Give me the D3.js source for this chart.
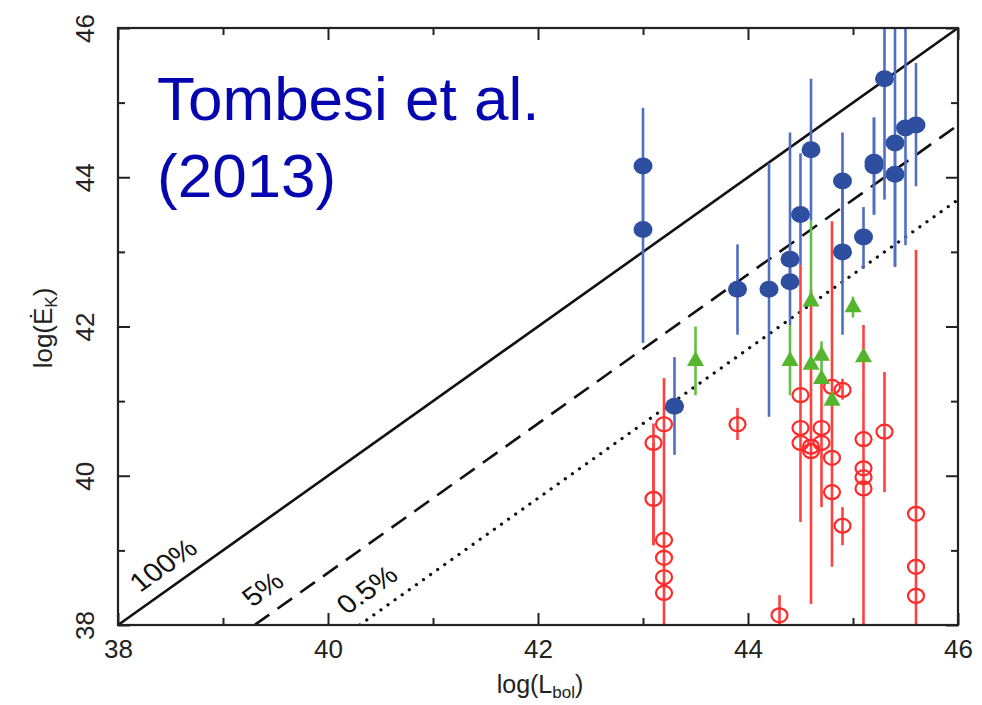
<!DOCTYPE html>
<html>
<head>
<meta charset="utf-8">
<script src="https://cdn.jsdelivr.net/npm/d3@7/dist/d3.min.js"></script>
<style>
  html, body { margin: 0; padding: 0; background: #fff; }
  svg { display: block; font-family: "Liberation Sans", Arial, Helvetica, sans-serif; }
</style>
</head>
<body>
<svg id="chart" width="982" height="705"></svg>
<script>
// Axis ranges and ticks
const xDomain = [38, 46];
const yDomain = [38, 46];
const majorTicks = [38, 40, 42, 44, 46];
const minorTicks = [39, 41, 43, 45];

// Efficiency reference lines: E_K = f * L_bol
const effFractions = [1, 0.05, 0.005];
const effLabels = ["100%", "5%", "0.5%"];

// Each point: [log L_bol, log E_K, lower end of bar, upper end of bar]
const filledCircles = [
  [43.0, 44.15, 43.30, 44.93],
  [43.0, 43.30, 41.78, 44.15],
  [43.3, 40.93, 40.28, 41.59],
  [43.9, 42.50, 41.89, 43.10],
  [44.2, 42.50, 40.79, 44.19],
  [44.4, 42.90, 42.60, 44.60],
  [44.4, 42.60, 42.02, 42.90],
  [44.5, 43.50, 42.82, 44.32],
  [44.6, 44.37, 43.42, 45.32],
  [44.9, 43.95, 43.00, 44.60],
  [44.9, 43.00, 41.89, 43.95],
  [45.1, 43.20, 42.78, 43.60],
  [45.2, 44.20, 43.50, 44.80],
  [45.2, 44.15, 43.50, 44.80],
  [45.3, 45.32, 43.70, 46.50],
  [45.4, 44.46, 42.80, 46.50],
  [45.4, 44.04, 42.80, 44.46],
  [45.5, 44.66, 43.09, 46.50],
  [45.6, 44.70, 43.88, 45.53]
];

const triangles = [
  [43.5, 41.55, 41.08, 42.00],
  [44.4, 41.55, 41.08, 42.02],
  [44.6, 42.35, 42.35, 43.42],
  [44.6, 41.50, null, null],
  [44.7, 41.62, 41.31, 41.80],
  [44.7, 41.31, null, null],
  [44.8, 41.02, null, null],
  [45.0, 42.27, 42.12, 42.40],
  [45.1, 41.60, null, null]
];

const openCircles = [
  [43.1, 40.44, 39.07, 40.70],
  [43.1, 39.69, 39.07, 40.44],
  [43.2, 40.69, 37.50, 41.31],
  [43.2, 39.14, null, null],
  [43.2, 38.90, null, null],
  [43.2, 38.64, null, null],
  [43.2, 38.43, null, null],
  [43.9, 40.69, 40.48, 40.91],
  [44.3, 38.13, 37.50, 38.40],
  [44.5, 41.08, 39.38, 42.82],
  [44.5, 40.64, null, null],
  [44.5, 40.44, null, null],
  [44.6, 40.39, 38.28, 42.50],
  [44.6, 40.33, null, null],
  [44.7, 40.64, 39.58, 41.31],
  [44.7, 40.44, null, null],
  [44.8, 41.19, 38.78, 43.41],
  [44.8, 40.24, null, null],
  [44.8, 39.78, null, null],
  [44.9, 41.15, 41.02, 41.30],
  [44.9, 39.33, 39.07, 39.58],
  [45.1, 40.49, 37.50, 42.02],
  [45.1, 40.10, null, null],
  [45.1, 39.98, null, null],
  [45.1, 39.83, null, null],
  [45.3, 40.59, 39.78, 41.39],
  [45.6, 39.49, 37.50, 43.03],
  [45.6, 38.78, null, null],
  [45.6, 38.39, null, null]
];

const titleLines = ["Tombesi et al.", "(2013)"];

// Layout
const plot = { left: 118, right: 958, top: 28, bottom: 625 };
const svg = d3.select("#chart");

const x = d3.scaleLinear().domain(xDomain).range([plot.left, plot.right]);
const y = d3.scaleLinear().domain(yDomain).range([plot.bottom, plot.top]);

svg.append("defs").append("clipPath").attr("id", "plotClip")
  .append("rect")
  .attr("x", plot.left).attr("y", plot.top)
  .attr("width", plot.right - plot.left).attr("height", plot.bottom - plot.top);

const inner = svg.append("g").attr("clip-path", "url(#plotClip)");

// Efficiency lines
const lineStyles = [
  { dash: null, cap: "butt" },
  { dash: "18,10", cap: "butt" },
  { dash: "0.1,8.6", cap: "round" }
];
effFractions.forEach((f, i) => {
  const off = Math.log10(f);
  const x0 = yDomain[0] - off;
  const x1 = xDomain[1];
  inner.append("line")
    .attr("x1", x(x0)).attr("y1", y(x0 + off))
    .attr("x2", x(x1)).attr("y2", y(x1 + off))
    .attr("stroke", "#111")
    .attr("stroke-width", i === 2 ? 3.2 : 2.6)
    .attr("stroke-linecap", lineStyles[i].cap)
    .attr("stroke-dasharray", lineStyles[i].dash);
});

// Labels along the efficiency lines (anchored at the start of their baseline)
const labelPos = [[38.21, 38.43], [39.28, 38.23], [40.18, 38.13]];
effLabels.forEach((t, i) => {
  const [lx, ly] = labelPos[i];
  svg.append("text")
    .attr("transform", `translate(${x(lx)},${y(ly)}) scale(1.15,1) rotate(-39)`)
    .attr("text-anchor", "start")
    .attr("font-size", 26)
    .attr("fill", "#111")
    .text(t);
});

// Error bars
function drawBars(data, color) {
  inner.append("g").selectAll("line")
    .data(data.filter(d => d[2] !== null))
    .join("line")
    .attr("x1", d => x(d[0])).attr("x2", d => x(d[0]))
    .attr("y1", d => y(d[2])).attr("y2", d => y(d[3]))
    .attr("stroke", color)
    .attr("stroke-width", 2.6);
}
drawBars(openCircles, "#ff4040");
drawBars(triangles, "#64bd45");
drawBars(filledCircles, "#4f6ec4");

// Markers
inner.append("g").selectAll("ellipse")
  .data(openCircles)
  .join("ellipse")
  .attr("cx", d => x(d[0])).attr("cy", d => y(d[1]))
  .attr("rx", 8).attr("ry", 7)
  .attr("fill", "none")
  .attr("stroke", "#ff2a2a")
  .attr("stroke-width", 2.2);

const triPath = "M0,-9L8.5,6L-8.5,6Z";
inner.append("g").selectAll("path")
  .data(triangles)
  .join("path")
  .attr("d", triPath)
  .attr("transform", d => `translate(${x(d[0])},${y(d[1])})`)
  .attr("fill", "#55b52e");

inner.append("g").selectAll("ellipse")
  .data(filledCircles)
  .join("ellipse")
  .attr("cx", d => x(d[0])).attr("cy", d => y(d[1]))
  .attr("rx", 9.5).attr("ry", 8.5)
  .attr("fill", "#2e4f9f");

// Frame
svg.append("rect")
  .attr("x", plot.left).attr("y", plot.top)
  .attr("width", plot.right - plot.left).attr("height", plot.bottom - plot.top)
  .attr("fill", "none")
  .attr("stroke", "#222")
  .attr("stroke-width", 2.2);

// Axes with inward ticks
function styleAxis(g) {
  g.select(".domain").remove();
  g.selectAll(".tick line").attr("stroke", "#222").attr("stroke-width", 2);
  g.selectAll("text").attr("fill", "#222").attr("font-size", 26)
    .attr("font-family", "'Liberation Sans', Arial, sans-serif");
}

svg.append("g").attr("transform", `translate(0,${plot.bottom})`)
  .call(d3.axisBottom(x).tickValues(majorTicks).tickSize(-12).tickPadding(15).tickFormat(d3.format("d")))
  .call(styleAxis);
svg.append("g").attr("transform", `translate(0,${plot.bottom})`)
  .call(d3.axisBottom(x).tickValues(minorTicks).tickSize(-7).tickFormat(""))
  .call(styleAxis);
svg.append("g").attr("transform", `translate(0,${plot.top})`)
  .call(d3.axisTop(x).tickValues(majorTicks).tickSize(-12).tickFormat(""))
  .call(styleAxis);
svg.append("g").attr("transform", `translate(0,${plot.top})`)
  .call(d3.axisTop(x).tickValues(minorTicks).tickSize(-7).tickFormat(""))
  .call(styleAxis);

const left = svg.append("g").attr("transform", `translate(${plot.left},0)`)
  .call(d3.axisLeft(y).tickValues(majorTicks).tickSize(-12).tickPadding(0).tickFormat(d3.format("d")))
  .call(styleAxis);
left.selectAll(".tick text")
  .attr("x", 0).attr("y", -24).attr("dy", 0)
  .attr("text-anchor", "middle")
  .attr("transform", "rotate(-90)");
svg.append("g").attr("transform", `translate(${plot.left},0)`)
  .call(d3.axisLeft(y).tickValues(minorTicks).tickSize(-7).tickFormat(""))
  .call(styleAxis);
svg.append("g").attr("transform", `translate(${plot.right},0)`)
  .call(d3.axisRight(y).tickValues(majorTicks).tickSize(-12).tickFormat(""))
  .call(styleAxis);
svg.append("g").attr("transform", `translate(${plot.right},0)`)
  .call(d3.axisRight(y).tickValues(minorTicks).tickSize(-7).tickFormat(""))
  .call(styleAxis);

// Axis titles
const xt = svg.append("text")
  .attr("x", 540).attr("y", 693)
  .attr("text-anchor", "middle")
  .attr("font-size", 25)
  .attr("fill", "#222");
xt.append("tspan").text("log(L");
xt.append("tspan").attr("font-size", 17).attr("dy", 5).text("bol");
xt.append("tspan").attr("dy", -5).text(")");

const yt = svg.append("text")
  .attr("transform", "translate(52,328) rotate(-90)")
  .attr("text-anchor", "middle")
  .attr("font-size", 26)
  .attr("fill", "#222");
yt.append("tspan").text("log(Ė");
yt.append("tspan").attr("font-size", 17).attr("dy", 5).text("K");
yt.append("tspan").attr("dy", -5).text(")");

// Title
svg.append("g").selectAll("text")
  .data(titleLines)
  .join("text")
  .attr("x", 157)
  .attr("y", (d, i) => 120 + i * 77)
  .attr("font-size", 62)
  .attr("fill", "#0606b0")
  .text(d => d);
</script>
</body>
</html>
